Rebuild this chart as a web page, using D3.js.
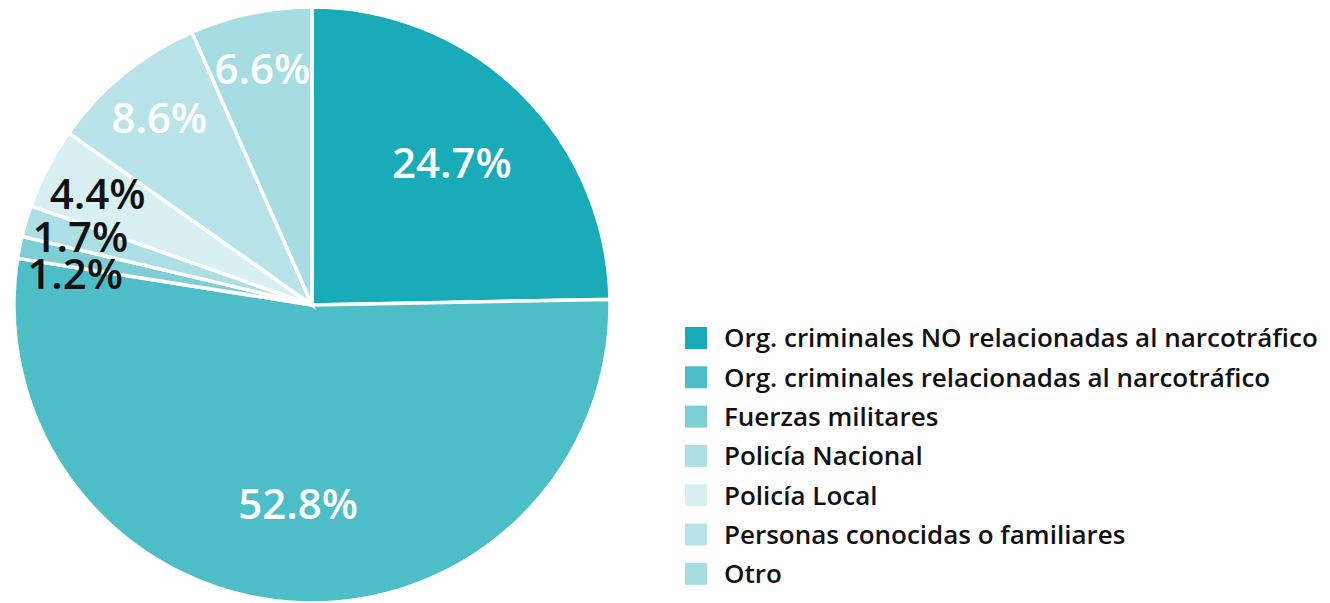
<!DOCTYPE html>
<html>
<head>
<meta charset="utf-8">
<script src="https://d3js.org/d3.v7.min.js"></script>
<style>
  body { margin: 0; background: #fff; }
  svg text { font-family: "Open Sans", sans-serif; }
</style>
</head>
<body>
<svg id="chart" width="1330" height="603"></svg>
<script>
// data, clockwise from 12 o'clock
var categories = [
    "Org. criminales NO relacionadas al narcotráfico",
    "Org. criminales relacionadas al narcotráfico",
    "Fuerzas militares",
    "Policía Nacional",
    "Policía Local",
    "Personas conocidas o familiares",
    "Otro"
];
var values = [24.7, 52.8, 1.2, 1.7, 4.4, 8.6, 6.6];
var colors = ["#1aabb9", "#4dbdc8", "#7dcfd5", "#ade0e5", "#d8f0f2", "#b8e4e9", "#a6dde3"];
var labelColors = ["#fff", "#fff", "#111", "#111", "#111", "#fff", "#fff"];

var data = categories.map(function (c, i) {
    return {name: c, value: values[i], color: colors[i], labelColor: labelColors[i]};
});

var svg = d3.select("#chart"),
    cx = 312,
    cy = 305,
    radius = 298;

var g = svg.append("g").attr("transform", "translate(" + cx + "," + cy + ")");

var pie = d3.pie()
    .sort(null)
    .value(function (d) { return d.value; });

var arc = d3.arc()
    .innerRadius(0)
    .outerRadius(radius);

// big slices get labels nearer the middle, small ones out by the edge
var labelArcBig = d3.arc().innerRadius(radius * 0.67).outerRadius(radius * 0.67);
var labelArcSmall = d3.arc().innerRadius(radius * 0.81).outerRadius(radius * 0.81);

var arcs = pie(data);

g.selectAll("path")
    .data(arcs)
    .enter().append("path")
    .attr("d", arc)
    .attr("fill", function (d) { return d.data.color; })
    .attr("stroke", "#fff")
    .attr("stroke-width", 3.5)
    .attr("stroke-linejoin", "miter");

// label positions, then push the tiny left-side ones apart so they don't collide
var labels = arcs.map(function (d) {
    var a = d.data.value > 20 ? labelArcBig : labelArcSmall;
    var c = a.centroid(d);
    return {arc: d, x: c[0], y: c[1]};
});
var leftSmall = labels.filter(function (l) { return l.arc.data.value < 5; })
    .sort(function (a, b) { return a.y - b.y; });
for (var i = 1; i < leftSmall.length; i++) {
    leftSmall[i].y = Math.max(leftSmall[i].y, leftSmall[i - 1].y + 37);
}

g.selectAll("text.lbl")
    .data(labels)
    .enter().append("text")
    .attr("class", "lbl")
    .attr("x", function (d) { return d.x; })
    .attr("y", function (d) { return d.y; })
    .attr("text-anchor", "middle")
    .attr("dy", "0.36em")
    .attr("font-size", 42)
    .attr("font-weight", 600)
    .attr("fill", function (d) { return d.arc.data.labelColor; })
    .text(function (d) { return d.arc.data.value.toFixed(1) + "%"; });

// legend
var legend = svg.append("g")
    .attr("transform", "translate(685,327)")
    .selectAll("g")
    .data(data)
    .enter().append("g")
    .attr("transform", function (d, i) { return "translate(0," + i * 39.3 + ")"; });

legend.append("rect")
    .attr("width", 22)
    .attr("height", 22)
    .attr("fill", function (d) { return d.color; });

legend.append("text")
    .attr("x", 39)
    .attr("y", 11)
    .attr("dy", "0.36em")
    .attr("font-size", 26)
    .attr("font-weight", 600)
    .attr("fill", "#111")
    .text(function (d) { return d.name; });
</script>
</body>
</html>
